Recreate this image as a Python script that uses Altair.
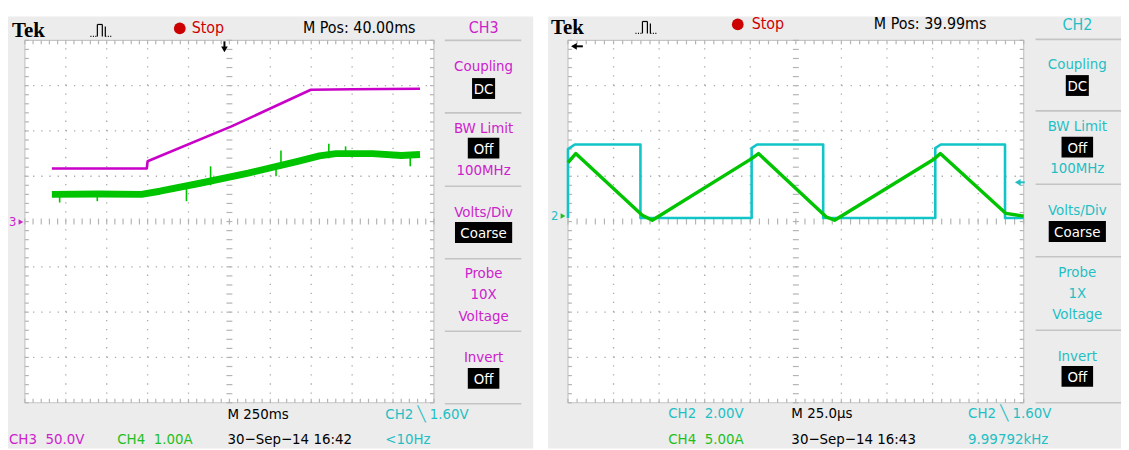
import altair as alt
import numpy as np
import pandas as pd

# ------------------------------------------------------------------
# Values read from the two Tektronix captures, in screen divisions
# (x: 0..10 divisions, y: -4..4 divisions, 0 = centre line)
# ------------------------------------------------------------------
# Left capture (M 250ms): CH3 voltage (magenta) and CH4 current (green)
left_ch3_t = [0.66, 2.98, 3.00, 5.05, 6.99, 8.00, 9.66]
left_ch3_v = [1.17, 1.17, 1.33, 2.10, 2.91, 2.92, 2.93]

left_ch4_t = [0.66, 1.80, 2.85, 3.30, 4.25, 5.46, 6.67, 7.20, 7.60, 8.50, 9.20, 9.66]
left_ch4_v = [0.60, 0.61, 0.60, 0.67, 0.84, 1.07, 1.33, 1.45, 1.50, 1.50, 1.46, 1.48]
# visible noise spikes on the CH4 trace
left_ch4_spike_t = [0.85, 1.77, 3.95, 4.54, 6.14, 6.26, 7.43, 7.84, 9.42]
left_ch4_spike_lo = [0.42, 0.45, 0.45, 0.80, 1.00, 1.20, 1.40, 1.45, 1.22]
left_ch4_spike_hi = [0.62, 0.62, 0.75, 1.22, 1.25, 1.57, 1.72, 1.66, 1.50]

# Right capture (M 25.0us): CH2 gate signal (cyan) and CH4 current (green)
right_ch2_t = [0.00, 0.00, 0.15, 1.59, 1.59, 4.03, 4.03, 4.15, 5.60, 5.60,
               8.06, 8.06, 8.18, 9.59, 9.59, 10.00]
right_ch2_v = [0.08, 1.60, 1.70, 1.70, 0.08, 0.08, 1.62, 1.70, 1.70, 0.08,
               0.08, 1.62, 1.70, 1.70, 0.08, 0.08]
right_ch4_t = [0.00, 0.17, 1.63, 1.85, 4.03, 4.18, 5.67, 5.85, 8.02, 8.17, 9.61, 10.00]
right_ch4_v = [1.30, 1.50, 0.14, 0.03, 1.39, 1.50, 0.10, 0.03, 1.37, 1.50, 0.18, 0.12]

# Texts
left_header = ["Tek", "Stop", "M Pos: 40.00ms", "CH3"]
right_header = ["Tek", "Stop", "M Pos: 39.99ms", "CH2"]
left_menu = ["Coupling", "DC", "BW Limit", "Off", "100MHz", "Volts/Div", "Coarse",
             "Probe", "10X", "Voltage", "Invert", "Off"]
right_menu = ["Coupling", "DC", "BW Limit", "Off", "100MHz", "Volts/Div", "Coarse",
              "Probe", "1X", "Voltage", "Invert", "Off"]
menu_inverted = [False, True, False, True, False, False, True, False, False, False, False, True]
left_footer = ["M 250ms", "CH2 \u2572 1.60V", "CH3\u00a0\u00a050.0V", "CH4\u00a0\u00a01.00A",
               "30\u2212Sep\u221214 16:42", "<10Hz"]
right_footer = ["CH2\u00a0\u00a02.00V", "M 25.0\u00b5s", "CH2 \u2572 1.60V", "CH4\u00a0\u00a05.00A",
                "30\u2212Sep\u221214 16:43", "9.99792kHz"]

# ------------------------------------------------------------------
# Styling / layout
# ------------------------------------------------------------------
FONT = "Liberation Sans Narrow, DejaVu Sans Condensed, Roboto Condensed, Arial Narrow, sans-serif"
SERIF = "Liberation Serif, DejaVu Serif, serif"
MAGENTA, GREEN, CYAN = "#cc22cc", "#1fbf1f", "#1fbfc4"
TR_MAGENTA, TR_GREEN, TR_CYAN = "#c800c8", "#00c400", "#10c4c8"
RED = "#cc0000"
PANEL = "#ececec"
DOT, TICK, BORDER, SEP = "#a9a9a9", "#b4b4b4", "#c6c6c6", "#c4c4c4"
HDR, MENU, FOOT = 16, 15, 15
OX = OY = 8                     # page margin
W, H = 1121, 442
ONE = pd.DataFrame({"k": [0]})

LEFT = dict(x0=25, x1=437, y0=39, y1=404)
RIGHT = dict(x0=572, x1=1031, y0=39, y1=404)


def T(s, x, y, color="#000000", size=FOOT, align="left", font=FONT, weight="normal"):
    return alt.Chart(ONE).mark_text(
        text=s, align=align, baseline="middle", font=font, fontSize=size,
        fontWeight=weight, color=color
    ).encode(x=alt.value(x - OX), y=alt.value(y - OY))


def R(x0, y0, x1, y1, fill, stroke=None, sw=1.0):
    kw = dict(fill=fill)
    if stroke:
        kw.update(stroke=stroke, strokeWidth=sw)
    return alt.Chart(ONE).mark_rect(**kw).encode(
        x=alt.value(x0 - OX), x2=alt.value(x1 - OX),
        y=alt.value(y0 - OY), y2=alt.value(y1 - OY))


def L(x0, y0, x1, y1, color, sw=1.0, dash=None):
    kw = dict(color=color, strokeWidth=sw)
    if dash:
        kw["strokeDash"] = dash
    return alt.Chart(ONE).mark_rule(**kw).encode(
        x=alt.value(x0 - OX), x2=alt.value(x1 - OX),
        y=alt.value(y0 - OY), y2=alt.value(y1 - OY))


def P(x, y, shape, size, color):
    return alt.Chart(ONE).mark_point(shape=shape, size=size, filled=True, color=color,
                                     opacity=1, strokeWidth=0).encode(
        x=alt.value(x - OX), y=alt.value(y - OY))


def scales(g):
    xs = alt.Scale(domain=[0, 10], range=[g["x0"] - OX, g["x1"] - OX], nice=False, zero=False)
    ys = alt.Scale(domain=[-4, 4], range=[g["y1"] - OY, g["y0"] - OY], nice=False, zero=False)
    return xs, ys


def grid(g):
    xs, ys = scales(g)
    dx = (g["x1"] - g["x0"]) / 10.0
    dy = (g["y1"] - g["y0"]) / 8.0
    out = [R(g["x0"], g["y0"], g["x1"], g["y1"], "#ffffff", BORDER, 1.2)]
    hl = pd.DataFrame({"y": [-3, -2, -1, 1, 2, 3], "a": 0.0, "b": 10.0})
    vl = pd.DataFrame({"x": [1, 2, 3, 4, 6, 7, 8, 9], "a": -4.0, "b": 4.0})
    out.append(alt.Chart(hl).mark_rule(color=DOT, strokeWidth=1.3, strokeDash=[1.3, dx / 5 - 1.3]).encode(
        x=alt.X("a:Q", scale=xs, axis=None), x2="b:Q", y=alt.Y("y:Q", scale=ys, axis=None)))
    out.append(alt.Chart(vl).mark_rule(color=DOT, strokeWidth=1.3, strokeDash=[1.3, dy / 5 - 1.3]).encode(
        y=alt.Y("a:Q", scale=ys, axis=None), y2="b:Q", x=alt.X("x:Q", scale=xs, axis=None)))
    mx = np.round(np.arange(0, 10.001, 0.2), 2)
    my = np.round(np.arange(-4, 4.001, 0.2), 2)
    hc, wc = 3.0 / dy, 3.0 / dx     # centre-line tick half lengths
    hb, wb = 4.0 / dy, 4.0 / dx     # border tick lengths
    segs = []
    for x in mx:
        segs.append((x, x, -hc, hc))
        segs.append((x, x, 4, 4 - hb))
        segs.append((x, x, -4, -4 + hb))
    for y in my:
        segs.append((5 - wc, 5 + wc, y, y))
        segs.append((0, wb, y, y))
        segs.append((10, 10 - wb, y, y))
    sdf = pd.DataFrame(segs, columns=["x", "x2", "y", "y2"])
    out.append(alt.Chart(sdf).mark_rule(color=TICK, strokeWidth=1.2).encode(
        x=alt.X("x:Q", scale=xs, axis=None), x2="x2:Q",
        y=alt.Y("y:Q", scale=ys, axis=None), y2="y2:Q"))
    return out


def trace(g, t, v, color, sw):
    xs, ys = scales(g)
    df = pd.DataFrame({"t": t, "v": v, "i": list(range(len(t)))})
    return alt.Chart(df).mark_line(color=color, strokeWidth=sw, strokeJoin="round").encode(
        x=alt.X("t:Q", scale=xs, axis=None), y=alt.Y("v:Q", scale=ys, axis=None), order="i:Q")


def spikes(g, t, lo, hi, color):
    xs, ys = scales(g)
    df = pd.DataFrame({"t": t, "lo": lo, "hi": hi})
    return alt.Chart(df).mark_rule(color=color, strokeWidth=1.6).encode(
        x=alt.X("t:Q", scale=xs, axis=None), y=alt.Y("lo:Q", scale=ys, axis=None), y2="hi:Q")


def pulse_icon(x0, yb):
    yt = yb - 12
    return [
        L(x0, yb, x0 + 6, yb, "#000000", 1.2, [1, 1.5]),
        L(x0 + 7, yt, x0 + 7, yb, "#000000", 1.2),
        L(x0 + 7, yt, x0 + 12, yt, "#000000", 1.2),
        L(x0 + 12, yt, x0 + 12, yb, "#000000", 1.2),
        L(x0 + 15, yt + 2, x0 + 15, yb, "#000000", 1.2),
        L(x0 + 15, yb, x0 + 21, yb, "#000000", 1.2, [1, 1.5]),
    ]


def menu(cx, x0, x1, ys, seps, labels, color):
    out = []
    for y in seps:
        out.append(L(x0, y, x1, y, SEP, 1.6))
    for lab, y, inv in zip(labels, ys, menu_inverted):
        if inv:
            half = 4.3 * len(lab) + 3
            out.append(R(cx - half, y - 11, cx + half, y + 10, "#000000"))
            out.append(T(lab, cx, y, "#ffffff", MENU, "center"))
        else:
            out.append(T(lab, cx, y, color, MENU, "center"))
    return out


layers = []
# panels
layers += [R(8, 15, 537, 450, PANEL), R(552, 15, 1129, 450, PANEL)]
layers += grid(LEFT) + grid(RIGHT)

# traces
layers.append(trace(LEFT, left_ch4_t, left_ch4_v, TR_GREEN, 7))
layers.append(spikes(LEFT, left_ch4_spike_t, left_ch4_spike_lo, left_ch4_spike_hi, TR_GREEN))
layers.append(trace(LEFT, left_ch3_t, left_ch3_v, TR_MAGENTA, 2.6))
layers.append(trace(RIGHT, right_ch2_t, right_ch2_v, TR_CYAN, 2.6))
layers.append(trace(RIGHT, right_ch4_t, right_ch4_v, TR_GREEN, 3.4))

# headers
layers += [T(left_header[0], 12, 30, "#000000", 21, font=SERIF, weight="bold")]
layers += pulse_icon(91, 35)
layers += [P(181, 27, "circle", 140, RED), T(left_header[1], 193, 27, RED, HDR),
           T(left_header[2], 305, 27, "#000000", HDR), T(left_header[3], 487, 27, MAGENTA, HDR, "center")]
layers += [T(right_header[0], 555, 27, "#000000", 21, font=SERIF, weight="bold")]
layers += pulse_icon(640, 32)
layers += [P(743, 23, "circle", 140, RED), T(right_header[1], 757, 23, RED, HDR),
           T(right_header[2], 880, 23, "#000000", HDR), T(right_header[3], 1085, 24, CYAN, HDR, "center")]

# trigger position markers
layers += [L(226, 40, 226, 47, "#000000", 2), P(226, 48, "triangle-down", 45, "#000000")]
layers += [L(578, 45, 587, 45, "#000000", 2), P(578, 45, "triangle-left", 45, "#000000")]
# trigger level marker (right, CH2)
layers += [L(1025, 182, 1032, 182, CYAN, 2), P(1025, 182, "triangle-left", 45, CYAN)]
# ground reference markers
layers += [T("3", 9, 222, MAGENTA, 13), P(21, 222, "triangle-right", 30, MAGENTA)]
layers += [T("2", 555, 216, CYAN, 13), P(567, 216, "triangle-right", 30, GREEN)]

# side menus
layers += menu(487, 448, 525, [65, 88, 127, 148, 170, 212, 233, 273, 295, 317, 358, 380],
               [39, 112, 186, 259, 332, 405], left_menu, MAGENTA)
layers += menu(1085, 1043, 1129, [63, 85, 125, 147, 168, 210, 232, 272, 293, 315, 357, 378],
               [38, 110, 184, 257, 331, 404], right_menu, CYAN)

# footers
layers += [T(left_footer[0], 229, 415), T(left_footer[1], 388, 415, CYAN),
           T(left_footer[2], 9, 441, MAGENTA), T(left_footer[3], 118, 441, GREEN),
           T(left_footer[4], 229, 441), T(left_footer[5], 388, 441, CYAN)]
layers += [T(right_footer[0], 673, 414, CYAN), T(right_footer[1], 797, 414),
           T(right_footer[2], 975, 414, CYAN), T(right_footer[3], 673, 441, GREEN),
           T(right_footer[4], 797, 441), T(right_footer[5], 975, 441, CYAN)]

chart = alt.layer(*layers).resolve_scale(x="independent", y="independent").properties(
    width=W, height=H, padding=0, autosize=alt.AutoSizeParams(type="none"), background="white"
).configure_view(stroke=None)

chart.save("out.html", embed_options={"renderer": "svg", "actions": False})
